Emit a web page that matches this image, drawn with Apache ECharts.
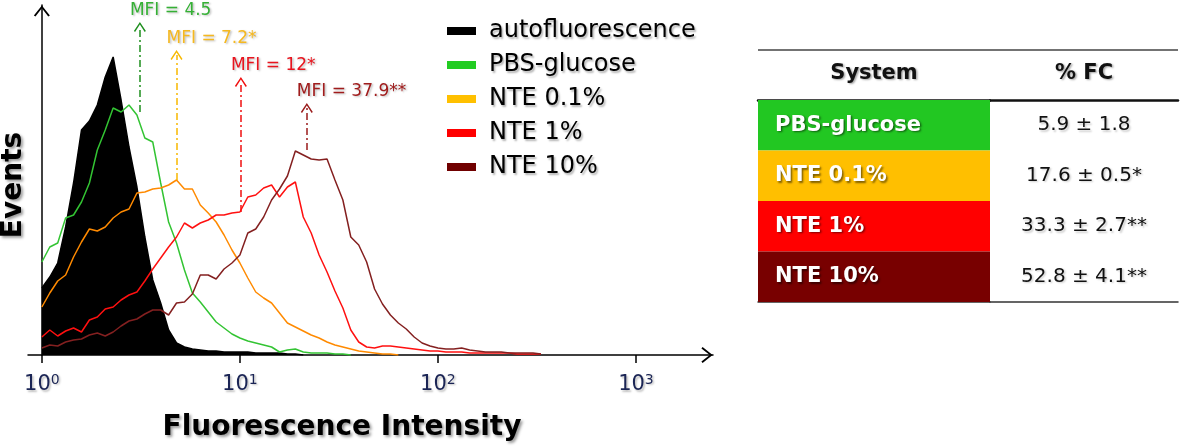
<!DOCTYPE html>
<html>
<head>
<meta charset="utf-8">
<title>Fluorescence histogram</title>
<script src="https://cdn.jsdelivr.net/npm/echarts@6/dist/echarts.min.js"></script>
<style>
  html, body { margin: 0; padding: 0; background: #fff; }
  #main { width: 1181px; height: 446px; }
</style>
</head>
<body>
<div id="main"></div>
<script>
// log10 of fluorescence intensity, one value per histogram channel
var logIntensity = [0, 0.04, 0.08, 0.12, 0.16, 0.2, 0.24, 0.28, 0.32, 0.36,
  0.4, 0.44, 0.48, 0.52, 0.56, 0.6, 0.64, 0.68, 0.72, 0.76,
  0.8, 0.84, 0.88, 0.92, 0.96, 1, 1.04, 1.08, 1.12, 1.16,
  1.2, 1.24, 1.28, 1.32, 1.36, 1.4, 1.44, 1.48, 1.52, 1.56,
  1.6, 1.64, 1.68, 1.72, 1.76, 1.8, 1.84, 1.88, 1.92, 1.96,
  2, 2.04, 2.08, 2.12, 2.16, 2.2, 2.24, 2.28, 2.32, 2.36,
  2.4, 2.44, 2.48, 2.52];

// events per channel
var autofluorescence = [67, 78, 92, 128, 172, 225, 234, 250, 278, 298,
  255, 208, 168, 118, 75, 52, 25, 12, 8, 6,
  5, 4, 4, 3, 3, 3, 3, 2, 2, 2,
  2, 1, 1, 0];
var pbsGlucose = [93, 108, 112, 137, 140, 153, 172, 205, 225, 247,
  243, 250, 240, 217, 213, 172, 133, 112, 85, 62,
  53, 43, 33, 27, 21, 17, 14, 12, 10, 8,
  3, 5, 6, 3, 2, 2, 2, 1, 1, 0];
var nte01 = [48, 62, 74, 80, 98, 113, 126, 124, 128, 137,
  143, 146, 162, 163, 166, 167, 170, 175, 166, 166,
  150, 142, 133, 120, 105, 92, 77, 63, 57, 52,
  42, 32, 28, 24, 20, 17, 13, 10, 8, 6,
  4, 3, 2, 1, 1, 0];
var nte1 = [18, 25, 19, 24, 27, 23, 35, 38, 46, 48,
  55, 60, 63, 74, 86, 97, 108, 118, 132, 127,
  132, 135, 140, 140, 142, 143, 158, 160, 167, 170,
  158, 168, 173, 138, 122, 100, 83, 64, 47, 25,
  13, 8, 7, 9, 9, 8, 7, 6, 5, 4,
  4, 3, 3, 3, 2, 2, 2, 2, 2, 2,
  1, 1, 1, 1];
var nte10 = [7, 10, 9, 13, 15, 16, 20, 22, 19, 23,
  29, 34, 36, 41, 45, 45, 40, 52, 53, 61,
  80, 80, 76, 86, 92, 100, 122, 126, 138, 155,
  166, 179, 204, 200, 196, 195, 196, 175, 155, 118,
  110, 93, 66, 51, 40, 32, 26, 18, 12, 9,
  7, 6, 6, 7, 5, 4, 3, 3, 3, 2,
  2, 2, 2, 1];

var seriesNames = ['autofluorescence', 'PBS-glucose', 'NTE 0.1%', 'NTE 1%', 'NTE 10%'];
var lineColors = ['#000000', '#33c433', '#ff8a00', '#ff1010', '#842020'];
var swatchColors = ['#000000', '#22cc22', '#ffc000', '#ff0000', '#700000'];

// MFI markers (log10 position, from / to in events)
var mfiLog = [0.495, 0.68, 1.005, 1.338];
var mfiFrom = [243, 175, 143, 205];
var mfiTo = [328, 300, 273, 247];
var mfiText = ['MFI = 4.5', 'MFI = 7.2*', 'MFI = 12*', 'MFI = 37.9**'];
var mfiColors = ['#1e8f1e', '#f7b800', '#f01010', '#9a1b1b'];
var mfiTextColors = ['#35b035', '#f5b820', '#e8141e', '#a01c1c'];

var decades = [0, 1, 2, 3];
var supers = ['0', '1', '2', '3'];

// table
var systems = ['PBS-glucose', 'NTE 0.1%', 'NTE 1%', 'NTE 10%'];
var fcValues = ['5.9 ± 1.8', '17.6 ± 0.5*', '33.3 ± 2.7**', '52.8 ± 4.1**'];
var cellColors = ['#22c722', '#ffbf00', '#ff0000', '#780000'];

var chevron = 'path://M0,10 L8,0 L16,10 L14.4,11.2 L8,2.8 L1.6,11.2 Z';
var shadow = {
  textShadowColor: 'rgba(0,0,0,0.35)',
  textShadowBlur: 2,
  textShadowOffsetX: 1.5,
  textShadowOffsetY: 1.5
};
function txt(o) { return Object.assign({}, shadow, o); }

var curves = [autofluorescence, pbsGlucose, nte01, nte1, nte10];
var series = curves.map(function (values, k) {
  var s = {
    name: seriesNames[k],
    type: 'line',
    xAxisIndex: 0,
    yAxisIndex: 0,
    data: logIntensity.map(function (x, i) {
      return [x, values[i] === undefined ? null : values[i]];
    }),
    showSymbol: false,
    symbol: 'none',
    lineStyle: { color: lineColors[k], width: 1.5 },
    itemStyle: { color: lineColors[k] },
    silent: true,
    z: 2 + k
  };
  if (k === 0) {
    s.areaStyle = { color: '#000', opacity: 1 };
  } else {
    var m = k - 1;
    s.markLine = {
      silent: true,
      symbol: ['none', chevron],
      symbolSize: [12, 10],
      lineStyle: { color: mfiColors[m], width: 1.5, type: [7, 3, 2, 3] },
      label: txt({
        show: true,
        position: 'end',
        formatter: mfiText[m],
        align: 'left',
        padding: [0, 0, 0, -10],
        distance: 8,
        color: mfiTextColors[m],
        fontFamily: 'DejaVu Sans',
        fontSize: 17,
        textShadowColor: 'rgba(0,0,0,0.25)'
      }),
      data: [[{ coord: [mfiLog[m], mfiFrom[m]] }, { coord: [mfiLog[m], mfiTo[m]] }]]
    };
  }
  return s;
});

// table cells
series.push({
  name: 'systemCells',
  type: 'bar',
  xAxisIndex: 1,
  yAxisIndex: 1,
  barWidth: '100%',
  silent: true,
  data: systems.map(function (s, i) {
    return { value: 1, itemStyle: { color: cellColors[i] } };
  }),
  label: txt({
    show: true,
    position: 'insideLeft',
    distance: 17,
    formatter: '{b}',
    color: '#fff',
    fontFamily: 'DejaVu Sans',
    fontWeight: 'bold',
    fontSize: 21,
    textShadowColor: 'rgba(0,0,0,0.5)'
  })
});
series.push({
  name: 'fcCells',
  type: 'bar',
  xAxisIndex: 2,
  yAxisIndex: 2,
  barWidth: '100%',
  silent: true,
  data: systems.map(function () { return { value: 1, itemStyle: { color: 'rgba(0,0,0,0)' } }; }),
  label: txt({
    show: true,
    position: 'inside',
    formatter: function (p) { return fcValues[p.dataIndex]; },
    color: '#111',
    fontFamily: 'DejaVu Sans',
    fontSize: 20,
    textShadowColor: 'rgba(0,0,0,0.2)'
  })
});

function tableAxis(grid, pos, name) {
  return {
    gridIndex: grid,
    type: 'value',
    min: 0,
    max: 1,
    position: pos,
    axisLine: { show: true, lineStyle: { color: pos === 'top' ? '#111' : '#333', width: pos === 'top' ? 2.5 : 1.5 } },
    axisTick: { show: false },
    axisLabel: { show: false },
    splitLine: { show: false },
    name: name || '',
    nameLocation: 'middle',
    nameGap: 16,
    nameTextStyle: txt({ color: '#111', fontFamily: 'DejaVu Sans', fontWeight: 'bold', fontSize: 21 })
  };
}

var option = {
  animation: false,
  backgroundColor: '#fff',
  grid: [
    { left: 28, right: 468, top: 5, bottom: 91, containLabel: false, outerBoundsMode: 'none' },
    { left: 758, width: 232, top: 100, height: 202, containLabel: false, outerBoundsMode: 'none' },
    { left: 990, width: 188, top: 100, height: 202, containLabel: false, outerBoundsMode: 'none' }
  ],
  legend: {
    orient: 'vertical',
    left: 442,
    top: 14,
    itemWidth: 29,
    itemHeight: 8,
    itemGap: 10,
    icon: 'rect',
    selectedMode: false,
    textStyle: txt({ color: '#000', fontFamily: 'DejaVu Sans', fontSize: 24, lineHeight: 24, padding: [0, 0, 0, 8], textShadowColor: 'rgba(0,0,0,0.3)' }),
    data: seriesNames.map(function (n, i) {
      return { name: n, itemStyle: { color: swatchColors[i] } };
    })
  },
  xAxis: [
    {
      gridIndex: 0,
      type: 'value',
      min: -0.07,
      max: 3.389,
      axisLine: {
        show: true,
        symbol: ['none', chevron],
        symbolSize: [16, 12],
        symbolOffset: [0, -6],
        lineStyle: { color: '#000', width: 1.5 }
      },
      axisTick: { show: true, customValues: decades, length: 8, lineStyle: { color: '#000', width: 1.5 } },
      axisLabel: {
        customValues: decades,
        margin: 18,
        formatter: function (v) { return '{b|10}{s|' + supers[v] + '}'; },
        rich: {
          b: txt({ fontFamily: 'DejaVu Sans', fontSize: 21, lineHeight: 24, color: '#1b2555', textShadowColor: 'rgba(0,0,0,0.25)' }),
          s: txt({ fontFamily: 'DejaVu Sans', fontSize: 14, lineHeight: 14, verticalAlign: 'top', color: '#1b2555', textShadowColor: 'rgba(0,0,0,0.25)' })
        }
      },
      splitLine: { show: false },
      name: 'Fluorescence Intensity',
      nameLocation: 'middle',
      nameGap: 59,
      nameTextStyle: txt({ color: '#000', fontFamily: 'DejaVu Sans', fontWeight: 'bold', fontSize: 28, padding: [0, 57, 0, 0], textShadowColor: 'rgba(0,0,0,0.4)', textShadowBlur: 3, textShadowOffsetX: 2, textShadowOffsetY: 2 })
    },
    tableAxis(1, 'top', 'System'),
    tableAxis(2, 'top', '% FC'),
    tableAxis(1, 'bottom'),
    tableAxis(2, 'bottom')
  ],
  yAxis: [
    {
      gridIndex: 0,
      type: 'value',
      min: 0,
      max: 350,
      axisLine: {
        show: true,
        onZero: true,
        symbol: ['none', chevron],
        symbolSize: [16, 12],
        symbolOffset: [0, -6],
        lineStyle: { color: '#000', width: 1.5 }
      },
      axisTick: { show: false },
      axisLabel: { show: false },
      splitLine: { show: false },
      name: 'Events',
      nameLocation: 'middle',
      nameRotate: 90,
      nameGap: 0,
      nameTextStyle: txt({ color: '#000', fontFamily: 'DejaVu Sans', fontWeight: 'bold', fontSize: 28, padding: [0, 10, 0, 0], textShadowColor: 'rgba(0,0,0,0.4)', textShadowBlur: 3, textShadowOffsetX: 2, textShadowOffsetY: 2 })
    },
    { gridIndex: 1, type: 'category', data: systems, inverse: true, show: false },
    { gridIndex: 2, type: 'category', data: systems, inverse: true, show: false }
  ],
  graphic: [
    {
      type: 'line',
      shape: { x1: 758, y1: 50, x2: 1178, y2: 50 },
      style: { stroke: '#444', lineWidth: 1.5 },
      silent: true
    }
  ],
  series: series
};

var myChart = echarts.init(document.getElementById('main'));
myChart.setOption(option);
</script>
</body>
</html>
